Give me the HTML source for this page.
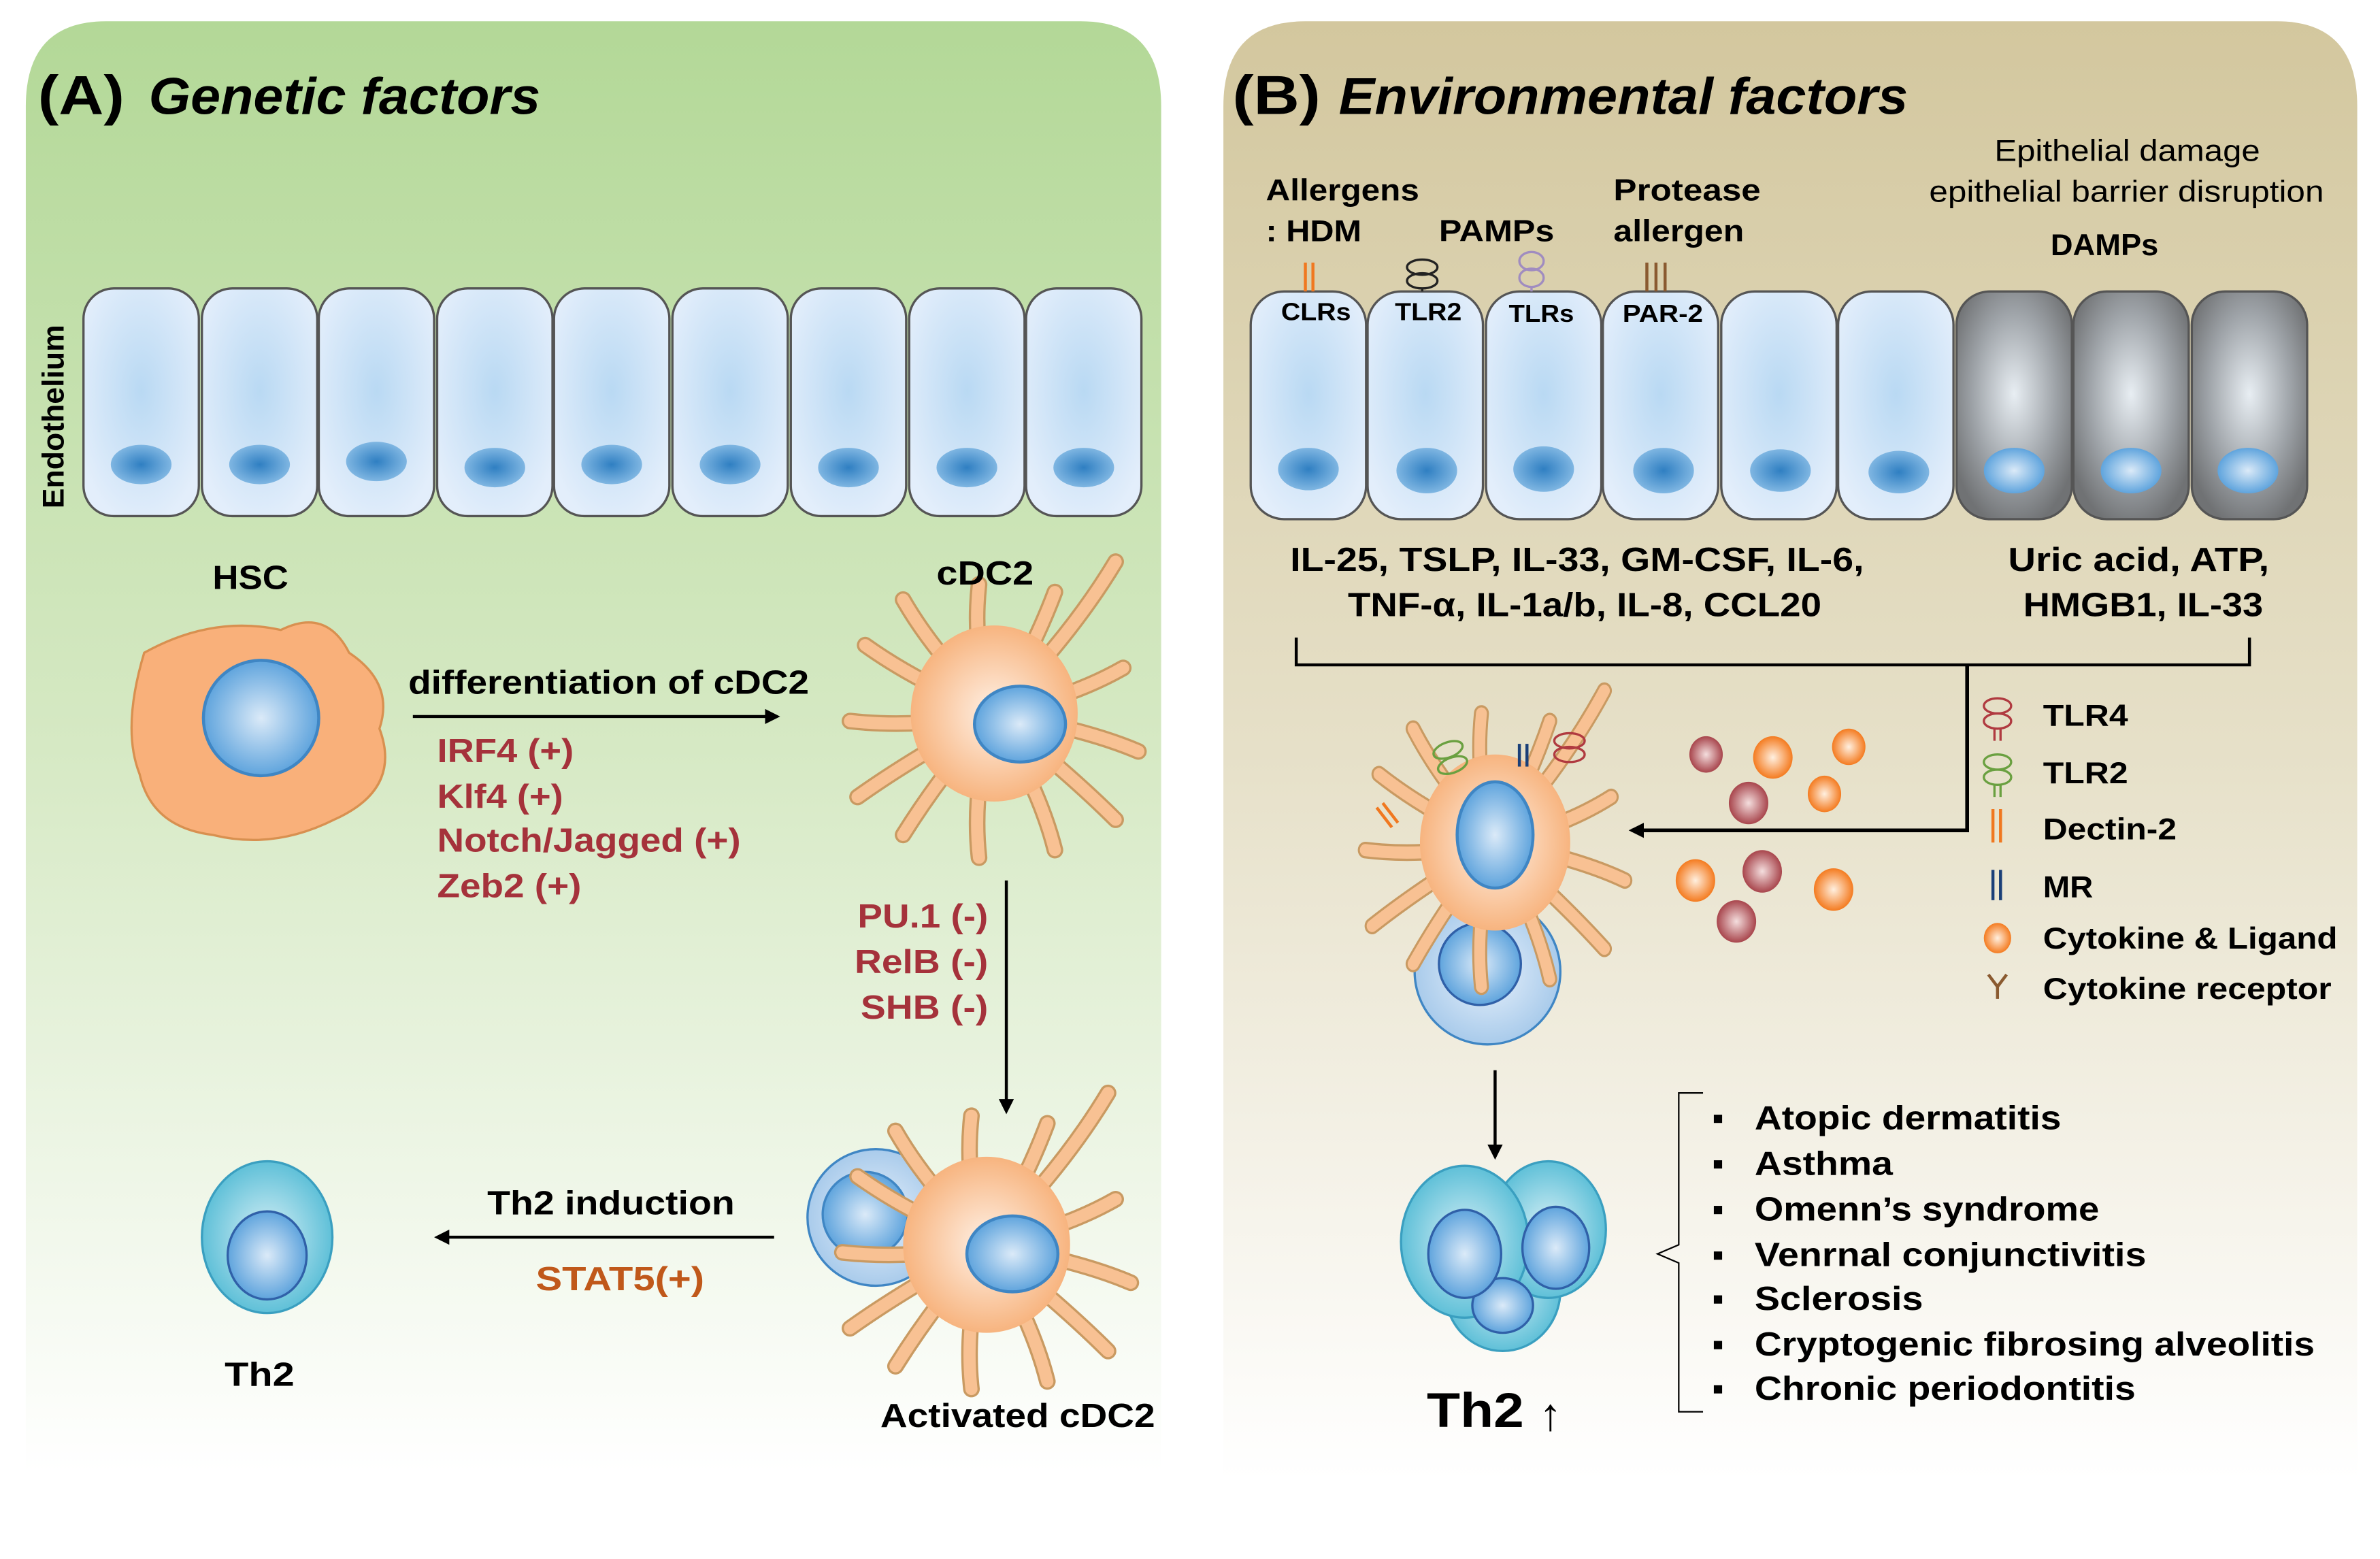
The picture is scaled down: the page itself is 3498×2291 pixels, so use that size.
<!DOCTYPE html>
<html><head><meta charset="utf-8"><style>html,body{margin:0;padding:0;background:#fff}svg{display:block}text{font-family:"Liberation Sans",Arial,sans-serif;font-weight:bold}</style></head><body>
<svg width="3498" height="2291" viewBox="0 0 1568 1027" preserveAspectRatio="none" xmlns="http://www.w3.org/2000/svg">
<defs>
<linearGradient id="ga" x1="0" y1="0" x2="0" y2="1"><stop offset="0" stop-color="#b3d897"/><stop offset="0.5" stop-color="#d6e9c4"/><stop offset="1" stop-color="#ffffff"/></linearGradient>
<linearGradient id="gb" x1="0" y1="0" x2="0" y2="1"><stop offset="0" stop-color="#d3c79e"/><stop offset="0.5" stop-color="#e6e0c8"/><stop offset="1" stop-color="#ffffff"/></linearGradient>
<radialGradient id="cell" cx="0.5" cy="0.45" r="0.6"><stop offset="0" stop-color="#b9d9f3"/><stop offset="1" stop-color="#e3eefb"/></radialGradient>
<radialGradient id="dcell" cx="0.5" cy="0.45" r="0.6"><stop offset="0" stop-color="#e8eef3"/><stop offset="0.6" stop-color="#9ea3a8"/><stop offset="1" stop-color="#707274"/></radialGradient>
<radialGradient id="nuc" cx="0.5" cy="0.5" r="0.5"><stop offset="0" stop-color="#2f7fc2"/><stop offset="1" stop-color="#7fb6e2"/></radialGradient>
<radialGradient id="bnuc" cx="0.5" cy="0.5" r="0.5"><stop offset="0" stop-color="#dbeaf8"/><stop offset="1" stop-color="#5fa4dd"/></radialGradient>
<radialGradient id="body" cx="0.5" cy="0.5" r="0.5"><stop offset="0" stop-color="#fff1e6"/><stop offset="1" stop-color="#f7b47f"/></radialGradient>
<radialGradient id="tc" cx="0.5" cy="0.5" r="0.5"><stop offset="0" stop-color="#e8f1fb"/><stop offset="1" stop-color="#a9cbeb"/></radialGradient>
<radialGradient id="th" cx="0.5" cy="0.5" r="0.5"><stop offset="0" stop-color="#d8f0f6"/><stop offset="1" stop-color="#5fc0d8"/></radialGradient>
<radialGradient id="or" cx="0.5" cy="0.5" r="0.5"><stop offset="0" stop-color="#fff0e0"/><stop offset="1" stop-color="#f47b20"/></radialGradient>
<radialGradient id="rd" cx="0.5" cy="0.5" r="0.5"><stop offset="0" stop-color="#f4dede"/><stop offset="1" stop-color="#a8454c"/></radialGradient>
<marker id="ar" markerWidth="10" markerHeight="10" refX="8" refY="5" orient="auto" markerUnits="userSpaceOnUse"><path d="M0,0 L10,5 L0,10 z" fill="#000"/></marker>
<g id="dend" stroke-linecap="round" fill="none">
<g stroke="#c99a62" stroke-width="11">
<path d="M0,0 Q-50,-20 -85,-45"/><path d="M0,0 Q-40,-40 -60,-75"/><path d="M0,0 Q-15,-40 -10,-85"/><path d="M0,0 Q25,-40 40,-80"/><path d="M0,0 Q50,-50 80,-100"/><path d="M0,0 Q50,-10 85,-30"/><path d="M0,0 Q60,10 95,25"/><path d="M0,0 Q50,40 80,70"/><path d="M0,0 Q30,50 40,90"/><path d="M0,0 Q-15,50 -10,95"/><path d="M0,0 Q-35,40 -60,80"/><path d="M0,0 Q-55,30 -90,55"/><path d="M0,0 Q-50,10 -95,5"/>
</g>
<g stroke="#f8c193" stroke-width="8">
<path d="M0,0 Q-50,-20 -85,-45"/><path d="M0,0 Q-40,-40 -60,-75"/><path d="M0,0 Q-15,-40 -10,-85"/><path d="M0,0 Q25,-40 40,-80"/><path d="M0,0 Q50,-50 80,-100"/><path d="M0,0 Q50,-10 85,-30"/><path d="M0,0 Q60,10 95,25"/><path d="M0,0 Q50,40 80,70"/><path d="M0,0 Q30,50 40,90"/><path d="M0,0 Q-15,50 -10,95"/><path d="M0,0 Q-35,40 -60,80"/><path d="M0,0 Q-55,30 -90,55"/><path d="M0,0 Q-50,10 -95,5"/>
</g>
<ellipse cx="0" cy="0" rx="55" ry="58" fill="url(#body)" stroke="none"/>
</g>
</defs>

<!-- Panel A -->
<path d="M17,70 Q17,14 70,14 L712,14 Q765,14 765,70 L765,970 L17,970 Z" fill="url(#ga)"/>
<text x="25" y="75" font-size="36" textLength="57" lengthAdjust="spacingAndGlyphs">(A)</text>
<text x="98" y="75" font-size="34" font-style="italic" textLength="258" lengthAdjust="spacingAndGlyphs">Genetic factors</text>
<text transform="translate(42,335) rotate(-90)" font-size="20">Endothelium</text>
<g stroke="#555" stroke-width="1.5">
<rect x="55" y="190" width="76" height="150" rx="20" fill="url(#cell)"/>
<rect x="133" y="190" width="76" height="150" rx="20" fill="url(#cell)"/>
<rect x="210" y="190" width="76" height="150" rx="20" fill="url(#cell)"/>
<rect x="288" y="190" width="76" height="150" rx="20" fill="url(#cell)"/>
<rect x="365" y="190" width="76" height="150" rx="20" fill="url(#cell)"/>
<rect x="443" y="190" width="76" height="150" rx="20" fill="url(#cell)"/>
<rect x="521" y="190" width="76" height="150" rx="20" fill="url(#cell)"/>
<rect x="599" y="190" width="76" height="150" rx="20" fill="url(#cell)"/>
<rect x="676" y="190" width="76" height="150" rx="20" fill="url(#cell)"/>
</g>
<g fill="url(#nuc)">
<ellipse cx="93" cy="306" rx="20" ry="13"/><ellipse cx="171" cy="306" rx="20" ry="13"/><ellipse cx="248" cy="304" rx="20" ry="13"/><ellipse cx="326" cy="308" rx="20" ry="13"/><ellipse cx="403" cy="306" rx="20" ry="13"/><ellipse cx="481" cy="306" rx="20" ry="13"/><ellipse cx="559" cy="308" rx="20" ry="13"/><ellipse cx="637" cy="308" rx="20" ry="13"/><ellipse cx="714" cy="308" rx="20" ry="13"/>
</g>
<text x="140" y="388" font-size="22" textLength="50" lengthAdjust="spacingAndGlyphs">HSC</text>
<path d="M95,430 Q140,405 185,415 Q215,400 230,430 Q260,450 250,480 Q265,520 220,540 Q180,560 140,550 Q100,545 92,510 Q80,480 95,430 Z" fill="#f9b07a" stroke="#d89050" stroke-width="1.5"/>
<circle cx="172" cy="473" r="38" fill="url(#bnuc)" stroke="#3f86c4" stroke-width="2"/>
<text x="269" y="457" font-size="22" textLength="264" lengthAdjust="spacingAndGlyphs">differentiation of cDC2</text>
<line x1="272" y1="472" x2="512" y2="472" stroke="#000" stroke-width="2" marker-end="url(#ar)"/>
<g fill="#a5323b" font-size="22"><text x="288" y="502" textLength="90" lengthAdjust="spacingAndGlyphs">IRF4 (+)</text><text x="288" y="532" textLength="83" lengthAdjust="spacingAndGlyphs">Klf4 (+)</text><text x="288" y="561" textLength="200" lengthAdjust="spacingAndGlyphs">Notch/Jagged (+)</text><text x="288" y="591" textLength="95" lengthAdjust="spacingAndGlyphs">Zeb2 (+)</text></g>
<use href="#dend" transform="translate(655,470)"/>
<ellipse cx="672" cy="477" rx="30" ry="25" fill="url(#bnuc)" stroke="#3f86c4" stroke-width="2"/>
<text x="617" y="385" font-size="22" textLength="64" lengthAdjust="spacingAndGlyphs">cDC2</text>
<line x1="663" y1="580" x2="663" y2="732" stroke="#000" stroke-width="2" marker-end="url(#ar)"/>
<g fill="#a5323b" font-size="22"><text x="565" y="611" textLength="86" lengthAdjust="spacingAndGlyphs">PU.1 (-)</text><text x="563" y="641" textLength="88" lengthAdjust="spacingAndGlyphs">RelB (-)</text><text x="567" y="671" textLength="84" lengthAdjust="spacingAndGlyphs">SHB (-)</text></g>
<circle cx="577" cy="802" r="45" fill="url(#tc)" stroke="#3f86c4" stroke-width="1.5"/>
<circle cx="570" cy="800" r="28" fill="url(#bnuc)" stroke="#3f86c4" stroke-width="1.5"/>
<use href="#dend" transform="translate(650,820)"/>
<ellipse cx="667" cy="826" rx="30" ry="25" fill="url(#bnuc)" stroke="#3f86c4" stroke-width="2"/>
<text x="580" y="940" font-size="22" textLength="181" lengthAdjust="spacingAndGlyphs">Activated cDC2</text>
<text x="321" y="800" font-size="22" textLength="163" lengthAdjust="spacingAndGlyphs">Th2 induction</text>
<line x1="510" y1="815" x2="288" y2="815" stroke="#000" stroke-width="2" marker-end="url(#ar)"/>
<text x="353" y="850" font-size="22" fill="#c0581a" textLength="111" lengthAdjust="spacingAndGlyphs">STAT5(+)</text>
<ellipse cx="176" cy="815" rx="43" ry="50" fill="url(#th)" stroke="#3a9fc0" stroke-width="1.5"/>
<ellipse cx="176" cy="827" rx="26" ry="29" fill="url(#bnuc)" stroke="#3060a8" stroke-width="1.5"/>
<text x="148" y="913" font-size="22" textLength="46" lengthAdjust="spacingAndGlyphs">Th2</text>

<!-- Panel B -->
<path d="M806,70 Q806,14 860,14 L1500,14 Q1553,14 1553,70 L1553,975 L806,975 Z" fill="url(#gb)"/>
<text x="812" y="75" font-size="36" textLength="58" lengthAdjust="spacingAndGlyphs">(B)</text>
<text x="882" y="75" font-size="34" font-style="italic" textLength="375" lengthAdjust="spacingAndGlyphs">Environmental  factors</text>
<g font-size="20"><text x="834" y="132" textLength="101" lengthAdjust="spacingAndGlyphs">Allergens</text><text x="834" y="159" textLength="63" lengthAdjust="spacingAndGlyphs">: HDM</text><text x="948" y="159" textLength="76" lengthAdjust="spacingAndGlyphs">PAMPs</text><text x="1063" y="132" textLength="97" lengthAdjust="spacingAndGlyphs">Protease</text><text x="1063" y="159" textLength="86" lengthAdjust="spacingAndGlyphs">allergen</text><text x="1351" y="168" textLength="71" lengthAdjust="spacingAndGlyphs">DAMPs</text></g>
<g font-size="20"><text x="1314" y="106" style="font-weight:normal" textLength="175" lengthAdjust="spacingAndGlyphs">Epithelial damage</text><text x="1271" y="133" style="font-weight:normal" textLength="260" lengthAdjust="spacingAndGlyphs">epithelial barrier disruption</text></g>
<g stroke="#555" stroke-width="1.5">
<rect x="824" y="192" width="76" height="150" rx="22" fill="url(#cell)"/>
<rect x="901" y="192" width="76" height="150" rx="22" fill="url(#cell)"/>
<rect x="979" y="192" width="76" height="150" rx="22" fill="url(#cell)"/>
<rect x="1056" y="192" width="76" height="150" rx="22" fill="url(#cell)"/>
<rect x="1134" y="192" width="76" height="150" rx="22" fill="url(#cell)"/>
<rect x="1211" y="192" width="76" height="150" rx="22" fill="url(#cell)"/>
<rect x="1289" y="192" width="76" height="150" rx="22" fill="url(#dcell)"/>
<rect x="1366" y="192" width="76" height="150" rx="22" fill="url(#dcell)"/>
<rect x="1444" y="192" width="76" height="150" rx="22" fill="url(#dcell)"/>
</g>
<g fill="url(#nuc)"><ellipse cx="862" cy="309" rx="20" ry="14"/><ellipse cx="940" cy="310" rx="20" ry="15"/><ellipse cx="1017" cy="309" rx="20" ry="15"/><ellipse cx="1096" cy="310" rx="20" ry="15"/><ellipse cx="1173" cy="310" rx="20" ry="14"/><ellipse cx="1251" cy="311" rx="20" ry="14"/></g>
<g fill="url(#bnuc)"><ellipse cx="1327" cy="310" rx="20" ry="15"/><ellipse cx="1404" cy="310" rx="20" ry="15"/><ellipse cx="1481" cy="310" rx="20" ry="15"/></g>
<g font-size="16"><text x="844" y="211" textLength="46" lengthAdjust="spacingAndGlyphs">CLRs</text><text x="919" y="211" textLength="44" lengthAdjust="spacingAndGlyphs">TLR2</text><text x="994" y="212" textLength="43" lengthAdjust="spacingAndGlyphs">TLRs</text><text x="1069" y="212" textLength="53" lengthAdjust="spacingAndGlyphs">PAR-2</text></g>
<g stroke="#f07820" stroke-width="2"><line x1="860" y1="173" x2="860" y2="192"/><line x1="865" y1="173" x2="865" y2="192"/></g>
<g fill="none" stroke="#222" stroke-width="1.5"><ellipse cx="937" cy="176" rx="10" ry="5"/><ellipse cx="937" cy="185" rx="10" ry="5"/><line x1="937" y1="190" x2="937" y2="192"/></g>
<g fill="none" stroke="#a08cc0" stroke-width="1.5"><ellipse cx="1009" cy="172" rx="8" ry="6"/><ellipse cx="1009" cy="183" rx="8" ry="6"/><line x1="1009" y1="189" x2="1009" y2="192"/></g>
<g stroke="#8a5a30" stroke-width="2"><line x1="1085" y1="173" x2="1085" y2="192"/><line x1="1091" y1="173" x2="1091" y2="192"/><line x1="1097" y1="173" x2="1097" y2="192"/></g>
<g font-size="22"><text x="850" y="376" textLength="378" lengthAdjust="spacingAndGlyphs">IL-25, TSLP, IL-33, GM-CSF, IL-6,</text><text x="888" y="406" textLength="312" lengthAdjust="spacingAndGlyphs">TNF-α, IL-1a/b, IL-8, CCL20</text><text x="1323" y="376" textLength="172" lengthAdjust="spacingAndGlyphs">Uric acid, ATP,</text><text x="1333" y="406" textLength="158" lengthAdjust="spacingAndGlyphs">HMGB1, IL-33</text></g>
<path d="M854,420 L854,438 L1482,438 L1482,420" fill="none" stroke="#000" stroke-width="2"/>
<path d="M1296,438 L1296,547 L1075,547" fill="none" stroke="#000" stroke-width="2.5" marker-end="url(#ar)"/>
<circle cx="980" cy="640" r="48" fill="url(#tc)" stroke="#3f86c4" stroke-width="1.5"/>
<circle cx="975" cy="635" r="27" fill="url(#bnuc)" stroke="#3060a8" stroke-width="1.5"/>
<use href="#dend" transform="translate(985,555) scale(0.9,1)"/>
<ellipse cx="985" cy="550" rx="25" ry="35" fill="url(#bnuc)" stroke="#3f86c4" stroke-width="2"/>
<g stroke="#f07820" stroke-width="2"><line x1="907" y1="532" x2="917" y2="545"/><line x1="911" y1="529" x2="921" y2="542"/></g>
<g stroke="#1a3f78" stroke-width="2"><line x1="1001" y1="490" x2="1001" y2="505"/><line x1="1006" y1="490" x2="1006" y2="505"/></g>
<g fill="none" stroke="#b03a40" stroke-width="1.5"><ellipse cx="1034" cy="488" rx="10" ry="5"/><ellipse cx="1034" cy="497" rx="10" ry="5"/></g>
<g fill="none" stroke="#6aa040" stroke-width="1.5"><ellipse cx="954" cy="494" rx="10" ry="5" transform="rotate(-20 954 494)"/><ellipse cx="957" cy="504" rx="10" ry="5" transform="rotate(-20 957 504)"/></g>
<g fill="url(#rd)"><ellipse cx="1124" cy="497" rx="11" ry="12"/><ellipse cx="1152" cy="529" rx="13" ry="14"/><ellipse cx="1161" cy="574" rx="13" ry="14"/><ellipse cx="1144" cy="607" rx="13" ry="14"/></g>
<g fill="url(#or)"><ellipse cx="1168" cy="499" rx="13" ry="14"/><ellipse cx="1218" cy="492" rx="11" ry="12"/><ellipse cx="1202" cy="523" rx="11" ry="12"/><ellipse cx="1117" cy="580" rx="13" ry="14"/><ellipse cx="1208" cy="586" rx="13" ry="14"/></g>
<g font-size="20">
<g fill="none" stroke="#b03a40" stroke-width="1.5"><ellipse cx="1316" cy="465" rx="9" ry="5"/><ellipse cx="1316" cy="475" rx="9" ry="5"/><line x1="1314" y1="480" x2="1314" y2="488"/><line x1="1318" y1="480" x2="1318" y2="488"/></g><text x="1346" y="478" textLength="56" lengthAdjust="spacingAndGlyphs">TLR4</text>
<g fill="none" stroke="#6aa040" stroke-width="1.5"><ellipse cx="1316" cy="502" rx="9" ry="5"/><ellipse cx="1316" cy="512" rx="9" ry="5"/><line x1="1314" y1="517" x2="1314" y2="525"/><line x1="1318" y1="517" x2="1318" y2="525"/></g><text x="1346" y="516" textLength="56" lengthAdjust="spacingAndGlyphs">TLR2</text>
<g stroke="#f07820" stroke-width="2"><line x1="1313" y1="533" x2="1313" y2="555"/><line x1="1318" y1="533" x2="1318" y2="555"/></g><text x="1346" y="553" textLength="88" lengthAdjust="spacingAndGlyphs">Dectin-2</text>
<g stroke="#1a3f78" stroke-width="2"><line x1="1313" y1="573" x2="1313" y2="593"/><line x1="1318" y1="573" x2="1318" y2="593"/></g><text x="1346" y="591" textLength="33" lengthAdjust="spacingAndGlyphs">MR</text>
<ellipse cx="1316" cy="618" rx="9" ry="10" fill="url(#or)"/><text x="1346" y="625" textLength="194" lengthAdjust="spacingAndGlyphs">Cytokine &amp; Ligand</text>
<path d="M1310,642 L1316,650 L1322,642 M1316,650 L1316,658" fill="none" stroke="#8a5a30" stroke-width="2"/><text x="1346" y="658" textLength="190" lengthAdjust="spacingAndGlyphs">Cytokine receptor</text>
</g>
<line x1="985" y1="705" x2="985" y2="762" stroke="#000" stroke-width="2" marker-end="url(#ar)"/>
<g stroke="#3a9fc0" stroke-width="1.5">
<ellipse cx="990" cy="850" rx="38" ry="40" fill="url(#th)"/>
<ellipse cx="1020" cy="810" rx="38" ry="45" fill="url(#th)"/>
<ellipse cx="965" cy="818" rx="42" ry="50" fill="url(#th)"/>
</g>
<g stroke="#3060a8" stroke-width="1.5" fill="url(#bnuc)"><ellipse cx="990" cy="860" rx="20" ry="18"/><ellipse cx="1025" cy="822" rx="22" ry="27"/><ellipse cx="965" cy="826" rx="24" ry="29"/></g>
<text x="940" y="940" font-size="32" textLength="64" lengthAdjust="spacingAndGlyphs">Th2</text><text x="1014" y="942" font-size="30" style="font-weight:normal">↑</text>
<path d="M1122,720 L1106,720 L1106,820 L1092,826 L1106,832 L1106,930 L1122,930" fill="none" stroke="#000" stroke-width="1"/>
<g font-size="22">
<text x="1128" y="744">▪</text><text x="1156" y="744" textLength="202" lengthAdjust="spacingAndGlyphs">Atopic dermatitis</text>
<text x="1128" y="774">▪</text><text x="1156" y="774" textLength="91" lengthAdjust="spacingAndGlyphs">Asthma</text>
<text x="1128" y="804">▪</text><text x="1156" y="804" textLength="227" lengthAdjust="spacingAndGlyphs">Omenn’s syndrome</text>
<text x="1128" y="834">▪</text><text x="1156" y="834" textLength="258" lengthAdjust="spacingAndGlyphs">Venrnal conjunctivitis</text>
<text x="1128" y="863">▪</text><text x="1156" y="863" textLength="111" lengthAdjust="spacingAndGlyphs">Sclerosis</text>
<text x="1128" y="893">▪</text><text x="1156" y="893" textLength="369" lengthAdjust="spacingAndGlyphs">Cryptogenic fibrosing alveolitis</text>
<text x="1128" y="922">▪</text><text x="1156" y="922" textLength="251" lengthAdjust="spacingAndGlyphs">Chronic periodontitis</text>
</g>
</svg>
</body></html>
